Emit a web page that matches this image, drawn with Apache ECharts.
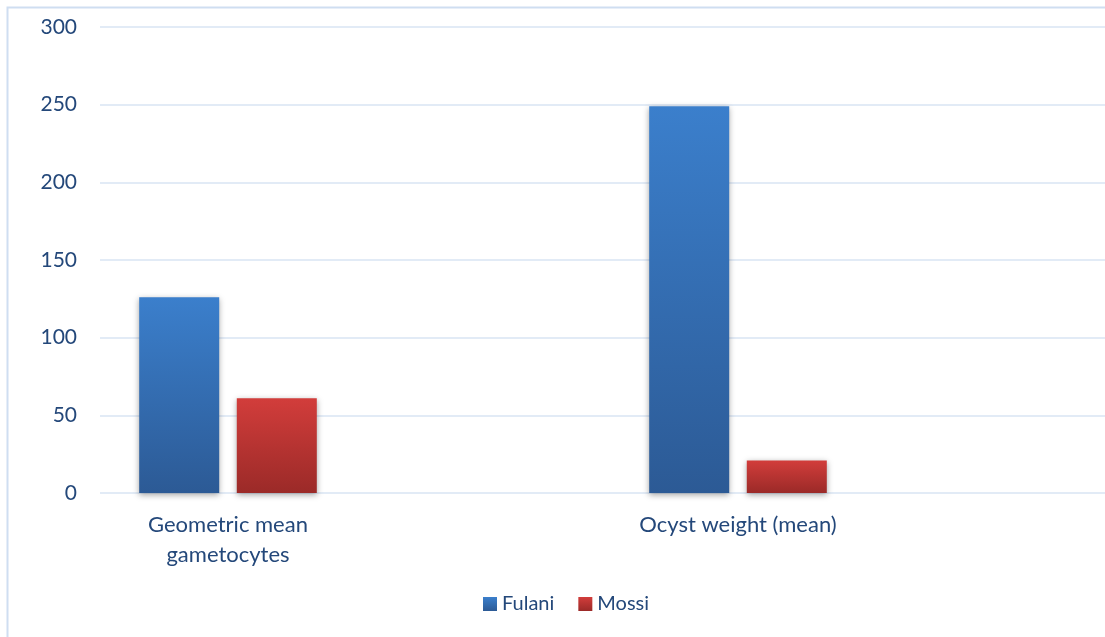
<!DOCTYPE html>
<html>
<head>
<meta charset="utf-8">
<script src="https://cdn.jsdelivr.net/npm/echarts@6/dist/echarts.min.js"></script>
<style>
  html, body { margin: 0; padding: 0; background: #fff; }
  #chart { width: 1105px; height: 637px; }
</style>
</head>
<body>
<div id="chart"></div>
<script>
// data
const categories = ['Geometric mean\ngametocytes', 'Ocyst weight (mean)']
const fulani = [126, 249]
const mossi = [61, 21]
const yTicks = { min: 0, max: 300, interval: 50 }

const textColor = '#24487a'
const gridColor = '#d9e5f3'
const font = 'Lato, "Open Sans", sans-serif'

const grad = (top, bottom) => new echarts.graphic.LinearGradient(0, 0, 0, 1, [
  { offset: 0, color: top },
  { offset: 1, color: bottom }
])

const chart = echarts.init(document.getElementById('chart'))
chart.setOption({
  animation: false,
  textStyle: { fontFamily: font },
  graphic: [{
    type: 'rect',
    shape: { x: 7.5, y: 7.5, width: 1200, height: 700 },
    style: { fill: 'none', stroke: '#cfdef1', lineWidth: 2 },
    silent: true
  }],
  legend: {
    bottom: 18,
    left: 478,
    itemWidth: 14,
    itemHeight: 14,
    itemGap: 24,
    icon: 'rect',
    textStyle: { color: textColor, fontSize: 20, fontFamily: font },
    data: ['Fulani', 'Mossi']
  },
  grid: [
    // bars
    { left: -27, width: 1020, top: 27, bottom: 144, outerBoundsMode: 'none', containLabel: false },
    // value axis + grid lines
    { left: 100, right: 0, top: 27, bottom: 144, outerBoundsMode: 'none', containLabel: false }
  ],
  xAxis: [
    {
      type: 'category',
      gridIndex: 0,
      data: categories,
      axisLine: { show: false },
      axisTick: { show: false },
      axisLabel: {
        color: textColor,
        fontSize: 22,
        lineHeight: 30,
        margin: 17,
        fontFamily: font
      }
    },
    { type: 'value', gridIndex: 1, show: false }
  ],
  yAxis: [
    { type: 'value', gridIndex: 0, ...yTicks, show: false },
    {
      type: 'value',
      gridIndex: 1,
      ...yTicks,
      axisLine: { show: false },
      axisTick: { show: false },
      axisLabel: { color: textColor, fontSize: 21, margin: 23, fontFamily: font },
      splitLine: { lineStyle: { color: gridColor, width: 1.5 } }
    }
  ],
  series: [
    {
      name: 'Fulani',
      type: 'bar',
      xAxisIndex: 0,
      yAxisIndex: 0,
      data: fulani,
      barWidth: 80,
      barGap: '22%',
      itemStyle: {
        color: grad('#3b7fcc', '#2c5a95'),
        shadowColor: 'rgba(0,0,0,0.35)',
        shadowBlur: 6,
        shadowOffsetY: 2
      }
    },
    {
      name: 'Mossi',
      type: 'bar',
      xAxisIndex: 0,
      yAxisIndex: 0,
      data: mossi,
      barWidth: 80,
      barGap: '22%',
      itemStyle: {
        color: grad('#d23d3b', '#9b2a28'),
        shadowColor: 'rgba(0,0,0,0.35)',
        shadowBlur: 6,
        shadowOffsetY: 2
      }
    }
  ]
})
</script>
</body>
</html>
